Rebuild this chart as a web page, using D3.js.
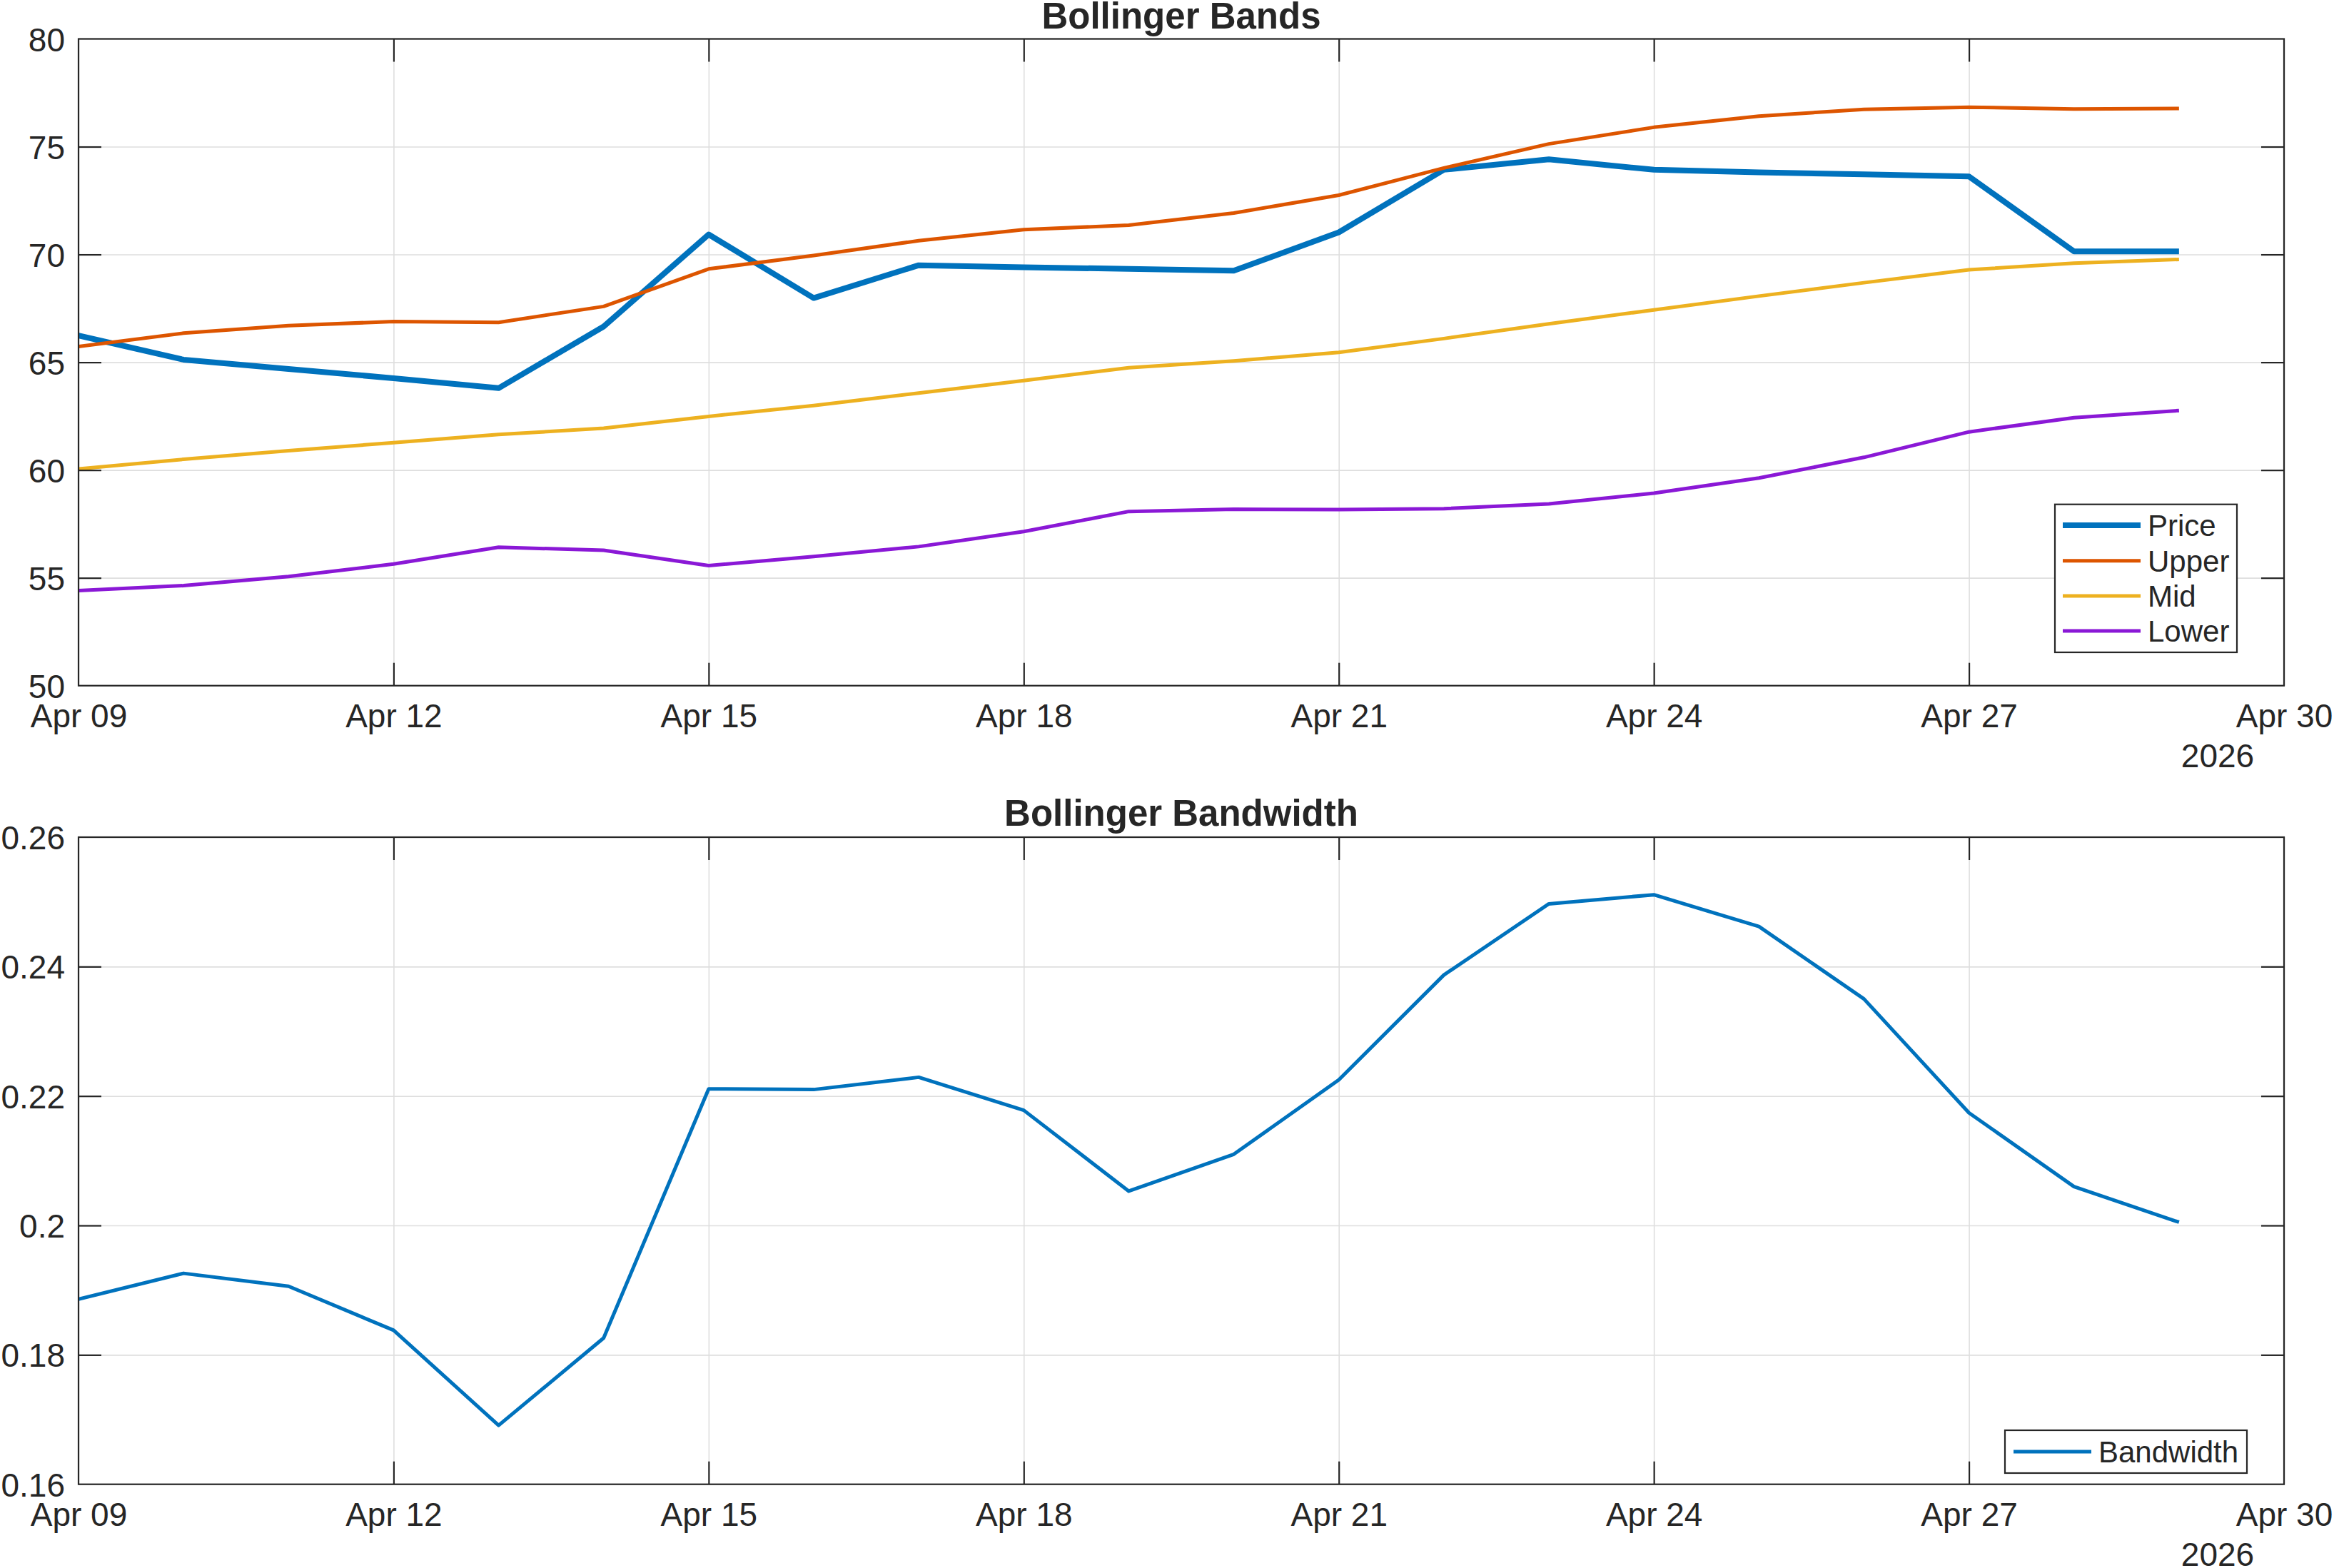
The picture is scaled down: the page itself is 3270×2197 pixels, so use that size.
<!DOCTYPE html>
<html>
<head>
<meta charset="utf-8">
<script src="https://cdn.jsdelivr.net/npm/d3@7"></script>
<style>
  html, body { margin: 0; padding: 0; background: #ffffff; }
  svg { display: block; }
  text { font-family: "Liberation Sans", Arial, Helvetica, sans-serif; fill: #262626; }
</style>
</head>
<body>
<script>
// ---------------- data ----------------
const dates = ["2026-04-09","2026-04-10","2026-04-11","2026-04-12","2026-04-13","2026-04-14","2026-04-15",
               "2026-04-16","2026-04-17","2026-04-18","2026-04-19","2026-04-20","2026-04-21","2026-04-22",
               "2026-04-23","2026-04-24","2026-04-25","2026-04-26","2026-04-27","2026-04-28","2026-04-29"];
const price = [66.24, 65.12, 64.69, 64.26, 63.80, 66.66, 70.93, 67.98, 69.50, 69.41, 69.33,
               69.25, 71.03, 73.93, 74.41, 73.93, 73.81, 73.72, 73.62, 70.14, 70.14];
const upper = [65.73, 66.35, 66.70, 66.89, 66.85, 67.59, 69.33, 69.95, 70.64, 71.15, 71.36,
               71.92, 72.75, 74.01, 75.13, 75.90, 76.42, 76.73, 76.83, 76.75, 76.77];
const mid   = [60.05, 60.50, 60.90, 61.27, 61.65, 61.94, 62.49, 62.99, 63.57, 64.15, 64.75,
               65.06, 65.46, 66.10, 66.78, 67.43, 68.07, 68.69, 69.29, 69.60, 69.77];
const lower = [54.41, 54.64, 55.06, 55.64, 56.42, 56.28, 55.57, 55.99, 56.45, 57.15, 58.08,
               58.18, 58.17, 58.21, 58.43, 58.93, 59.63, 60.59, 61.77, 62.43, 62.76];
const bandwidth = [0.1886, 0.1926, 0.1906, 0.1838, 0.1691, 0.1826, 0.2211, 0.2210, 0.2229, 0.2178, 0.2053,
                   0.2110, 0.2225, 0.2387, 0.2497, 0.2511, 0.2462, 0.2350, 0.2174, 0.2060, 0.2005];

const xDomain = ["2026-04-09", "2026-04-30"];
const xTicks = ["2026-04-09","2026-04-12","2026-04-15","2026-04-18","2026-04-21","2026-04-24","2026-04-27","2026-04-30"];
const xYearLabel = "2026";
const yTicksBands = [50, 55, 60, 65, 70, 75, 80];
const yTicksBw = [0.16, 0.18, 0.2, 0.22, 0.24, 0.26];
const titles = ["Bollinger Bands", "Bollinger Bandwidth"];
const seriesNames = ["Price", "Upper", "Mid", "Lower"];
const bwName = "Bandwidth";

// ---------------- layout ----------------
const W = 3270, H = 2197;
const X0 = 110, X1 = 3200;
const panels = [
  { y0: 54.5, y1: 960.7, domain: [50, 80], ticks: yTicksBands, title: titles[0], titleY: 40 },
  { y0: 1173, y1: 2079.7, domain: [0.16, 0.26], ticks: yTicksBw, title: titles[1], titleY: 1157 }
];
const AX = "#262626", GRID = "#dedede";
const TICK = 32, FS = 46;

const parse = d3.utcParse("%Y-%m-%d");
const fmt = d3.utcFormat("%b %d");
const dateObjs = dates.map(parse);

const svg = d3.select("body").append("svg").attr("width", W).attr("height", H);
svg.append("rect").attr("width", W).attr("height", H).attr("fill", "#fff");

const x = d3.scaleUtc().domain(xDomain.map(parse)).range([X0, X1]);
const xTickDates = xTicks.map(parse);

function drawPanel(p, idx, series) {
  const y = d3.scaleLinear().domain(p.domain).range([p.y1, p.y0]);
  const g = svg.append("g");
  const ph = p.y1 - p.y0, pw = X1 - X0;

  // grid
  g.append("g").attr("transform", `translate(0,${p.y1})`)
    .call(d3.axisBottom(x).tickValues(xTickDates).tickSize(-ph).tickFormat(""))
    .call(s => { s.select(".domain").remove(); s.selectAll("line").attr("stroke", GRID).attr("stroke-width", 1.6); });
  g.append("g").attr("transform", `translate(${X0},0)`)
    .call(d3.axisLeft(y).tickValues(p.ticks).tickSize(-pw).tickFormat(""))
    .call(s => { s.select(".domain").remove(); s.selectAll("line").attr("stroke", GRID).attr("stroke-width", 1.6); });

  // lines
  const clipId = "clip" + idx;
  svg.append("clipPath").attr("id", clipId).append("rect")
    .attr("x", X0).attr("y", p.y0).attr("width", pw).attr("height", ph);
  const lg = g.append("g").attr("clip-path", `url(#${clipId})`);
  series.forEach(s => {
    const line = d3.line().x((d, i) => x(dateObjs[i])).y(d => y(d));
    lg.append("path").datum(s.values).attr("d", line)
      .attr("fill", "none").attr("stroke", s.color).attr("stroke-width", s.width)
      .attr("stroke-linejoin", "round").attr("stroke-linecap", "butt");
  });

  // axes (inside ticks)
  const bottom = g.append("g").attr("transform", `translate(0,${p.y1})`)
    .call(d3.axisBottom(x).tickValues(xTickDates).tickFormat(fmt).tickSizeInner(-TICK).tickSizeOuter(0).tickPadding(26));
  const top = g.append("g").attr("transform", `translate(0,${p.y0})`)
    .call(d3.axisTop(x).tickValues(xTickDates).tickFormat("").tickSizeInner(-TICK).tickSizeOuter(0));
  const left = g.append("g").attr("transform", `translate(${X0},0)`)
    .call(d3.axisLeft(y).tickValues(p.ticks).tickFormat(d => String(+d.toFixed(2))).tickSizeInner(-TICK).tickSizeOuter(0).tickPadding(19));
  const right = g.append("g").attr("transform", `translate(${X1},0)`)
    .call(d3.axisRight(y).tickValues(p.ticks).tickFormat("").tickSizeInner(-TICK).tickSizeOuter(0));
  [bottom, top, left, right].forEach(a => {
    a.select(".domain").remove();
    a.selectAll("line").attr("stroke", AX).attr("stroke-width", 2.2);
    a.selectAll("text").attr("fill", AX).style("font-size", FS + "px")
      .style("font-family", '"Liberation Sans", Arial, sans-serif');
  });
  left.selectAll("text").attr("dy", "0.36em");
  [bottom, top].forEach(a => a.selectAll(".tick").filter(d => +d === +xTickDates[0] || +d === +xTickDates[xTickDates.length - 1]).select("line").remove());
  [left, right].forEach(a => a.selectAll(".tick").filter(d => d === p.ticks[0] || d === p.ticks[p.ticks.length - 1]).select("line").remove());

  // year label
  g.append("text").attr("x", 3107).attr("y", p.y1 + 114).attr("text-anchor", "middle")
    .style("font-size", FS + "px").text(xYearLabel);

  // box
  g.append("rect").attr("x", X0).attr("y", p.y0).attr("width", pw).attr("height", ph)
    .attr("fill", "none").attr("stroke", AX).attr("stroke-width", 2.2);

  // title
  g.append("text").attr("x", (X0 + X1) / 2).attr("y", p.titleY).attr("text-anchor", "middle")
    .style("font-size", "51px").style("font-weight", "bold").text(p.title);
  return g;
}

const bandSeries = [
  { name: seriesNames[0], values: price, color: "#0072BD", width: 8 },
  { name: seriesNames[1], values: upper, color: "#DD5500", width: 5 },
  { name: seriesNames[2], values: mid,   color: "#EDB120", width: 5 },
  { name: seriesNames[3], values: lower, color: "#8A18D6", width: 5 }
];
const bwSeries = [{ name: bwName, values: bandwidth, color: "#0072BD", width: 5 }];

const g1 = drawPanel(panels[0], 0, bandSeries);
const g2 = drawPanel(panels[1], 1, bwSeries);

function legend(g, items, box, sampleX0, sampleX1, textX, rowY) {
  g.append("rect").attr("x", box[0]).attr("y", box[1]).attr("width", box[2] - box[0]).attr("height", box[3] - box[1])
    .attr("fill", "#fff").attr("stroke", AX).attr("stroke-width", 2.2);
  items.forEach((s, i) => {
    g.append("line").attr("x1", sampleX0).attr("x2", sampleX1).attr("y1", rowY[i]).attr("y2", rowY[i])
      .attr("stroke", s.color).attr("stroke-width", s.width);
    g.append("text").attr("x", textX).attr("y", rowY[i]).attr("dy", "0.36em")
      .style("font-size", "42px").text(s.name);
  });
}
legend(g1, bandSeries, [2879, 706.7, 3134, 914], 2890, 2999, 3009, [736, 785.7, 835, 884]);
legend(g2, bwSeries, [2809, 2004, 3148, 2064], 2821, 2930, 2940, [2034]);
</script>
</body>
</html>
